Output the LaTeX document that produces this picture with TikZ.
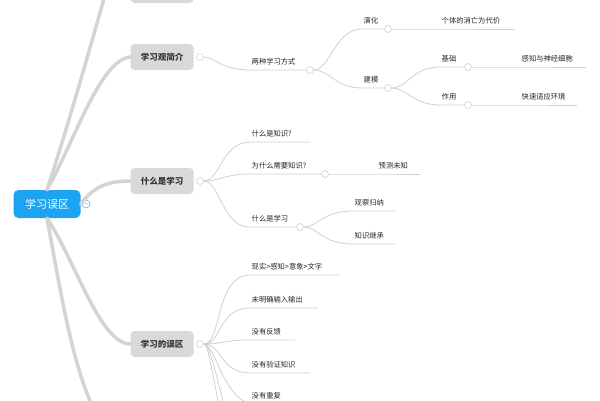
\documentclass[tikz,border=0pt]{standalone}
\usepackage{fontspec}
\setmainfont{Noto Sans CJK SC}
\definecolor{rootblue}{HTML}{1CA3F2}
\begin{document}
\begin{tikzpicture}[x=1pt,y=-1pt,
  conn/.style={draw=black!18,line width=0.8pt},
  trunk/.style={draw=black!17,line width=3.5pt,line cap=round},
  topic/.style={fill=black!15,rounded corners=4pt,minimum width=63pt,minimum height=26pt,font=\fontsize{8.5}{10}\selectfont\bfseries,text=black!80},
  leaf/.style={anchor=south west,inner xsep=1.5pt,inner ysep=5pt,font=\fontsize{7.3}{8}\selectfont,text=black!85},
  knob/.style={circle,draw=black!18,fill=white,line width=0.6pt,inner sep=0pt,minimum size=7pt}]
\fill[white] (0,0) rectangle (600,400);
\useasboundingbox (0,0) rectangle (600,400);
% root
\node[fill=rootblue,rounded corners=5pt,minimum width=67pt,minimum height=28pt,text=white,font=\fontsize{11}{13}\selectfont] (root) at (47,204) {学习误区};
\node[circle,draw=rootblue,fill=white,inner sep=0pt,minimum size=8pt,font=\fontsize{7}{7}\selectfont,text=rootblue] (rk) at (86,204) {$-$};
% topics
\node[topic] (t0) at (162,-10) {};
\node[topic] (t1) at (162,57) {学习观简介};
\node[topic] (t2) at (162,181) {什么是学习};
\node[topic] (t3) at (162,344) {学习的误区};
\coordinate (t4) at (100,420);
\draw[trunk] (root.north) .. controls (70,120) and (95,30) .. (105,-5);
\draw[trunk] (root.north) .. controls (75,140) and (100,60) .. (t1.west);
\draw[trunk] (root.east) .. controls (95,185) and (110,181) .. (t2.west);
\draw[trunk] (root.south) .. controls (75,260) and (100,344) .. (t3.west);
\draw[trunk] (root.south) .. controls (62,300) and (75,380) .. (t4);
\node[knob] (k1) at (200,57) {};
\node[knob] (k2) at (200,181) {};
\node[knob] (k3) at (200,344) {};
% branch 1
\node[leaf] (a1) at (250,70) {两种学习方式};
\coordinate (a1e) at (310,70);
\draw[conn] (k1) .. controls (215,57) and (220,70) .. (a1.south west) -- (a1e);
\node[knob] (ka1) at (310,70) {};
\node[leaf] (b1) at (362,29) {演化};
\coordinate (b1e) at (388,29);
\node[leaf] (b2) at (362,88) {建模};
\coordinate (b2e) at (388,88);
\draw[conn] (ka1) .. controls (330,70) and (335,29) .. (b1.south west) -- (b1e);
\draw[conn] (ka1) .. controls (330,70) and (335,88) .. (b2.south west) -- (b2e);
\node[knob] (kb1) at (388,29) {};
\node[knob] (kb2) at (388,88) {};
\node[leaf] (c1) at (440,29) {个体的消亡为代价};
\coordinate (c1e) at (515,29);
\draw[conn] (kb1) -- (c1.south west) -- (c1e);
\node[leaf] (c2) at (440,67) {基础};
\coordinate (c2e) at (468,67);
\node[leaf] (c3) at (440,105) {作用};
\coordinate (c3e) at (468,105);
\draw[conn] (kb2) .. controls (408,88) and (412,67) .. (c2.south west) -- (c2e);
\draw[conn] (kb2) .. controls (408,88) and (412,105) .. (c3.south west) -- (c3e);
\node[knob] (kc2) at (468,67) {};
\node[knob] (kc3) at (468,105) {};
\node[leaf] (d1) at (520,67) {感知与神经细胞};
\coordinate (d1e) at (586,67);
\draw[conn] (kc2) -- (d1.south west) -- (d1e);
\node[leaf] (d2) at (520,105) {快速适应环境};
\coordinate (d2e) at (577,105);
\draw[conn] (kc3) -- (d2.south west) -- (d2e);
% branch 2
\node[leaf] (e1) at (250,142) {什么是知识?};
\coordinate (e1e) at (310,142);
\node[leaf] (e2) at (250,174) {为什么需要知识?};
\coordinate (e2e) at (325,174);
\node[leaf] (e3) at (250,227) {什么是学习};
\coordinate (e3e) at (300,227);
\draw[conn] (k2) .. controls (220,181) and (222,142) .. (e1.south west) -- (e1e);
\draw[conn] (k2) .. controls (220,181) and (225,174) .. (e2.south west) -- (e2e);
\draw[conn] (k2) .. controls (220,181) and (222,227) .. (e3.south west) -- (e3e);
\node[knob] (ke2) at (325,174) {};
\node[knob] (ke3) at (300,227) {};
\node[leaf] (f1) at (377,174) {预测未知};
\coordinate (f1e) at (420,174);
\draw[conn] (ke2) -- (f1.south west) -- (f1e);
\node[leaf] (g1) at (353,211) {观察归纳};
\coordinate (g1e) at (395,211);
\node[leaf] (g2) at (353,244) {知识继承};
\coordinate (g2e) at (395,244);
\draw[conn] (ke3) .. controls (318,227) and (322,211) .. (g1.south west) -- (g1e);
\draw[conn] (ke3) .. controls (318,227) and (322,244) .. (g2.south west) -- (g2e);
% branch 3
\node[leaf] (h1) at (250,275) {现实>感知>意象>文字};
\coordinate (h1e) at (340,275);
\node[leaf] (h2) at (250,308) {未明确输入输出};
\coordinate (h2e) at (318,308);
\node[leaf] (h3) at (250,340) {没有反馈};
\coordinate (h3e) at (295,340);
\node[leaf] (h4) at (250,373) {没有验证知识};
\coordinate (h4e) at (310,373);
\node[leaf] (h5) at (250,404) {没有重复};
\coordinate (h5e) at (300,404);
\coordinate (h6) at (235,440);
\coordinate (h7) at (228,440);
\draw[conn] (k3) .. controls (222,344) and (215,275) .. (h1.south west) -- (h1e);
\draw[conn] (k3) .. controls (222,344) and (218,308) .. (h2.south west) -- (h2e);
\draw[conn] (k3) .. controls (222,344) and (225,340) .. (h3.south west) -- (h3e);
\draw[conn] (k3) .. controls (222,344) and (220,373) .. (h4.south west) -- (h4e);
\draw[conn] (k3) .. controls (215,344) and (222,395) .. (h5.south west) -- (h5e);
\draw[conn] (k3) .. controls (212,344) and (220,400) .. (h6);
\draw[conn] (k3) .. controls (210,344) and (215,400) .. (h7);
\end{tikzpicture}
\end{document}
